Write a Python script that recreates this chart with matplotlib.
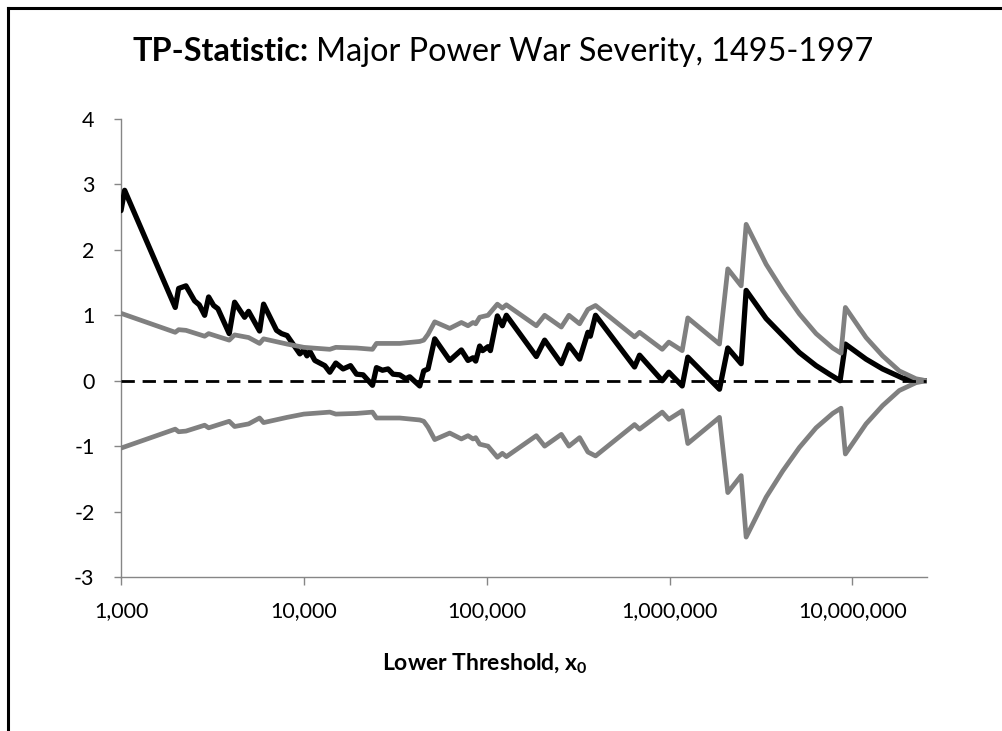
import matplotlib
matplotlib.use("Agg")
import matplotlib.pyplot as plt
from matplotlib.ticker import FixedLocator, FuncFormatter, NullLocator
from matplotlib.lines import Line2D

plt.rcParams['font.family'] = ['Lato', 'DejaVu Sans']
plt.rcParams['axes.unicode_minus'] = False
plt.rcParams['mathtext.fontset'] = 'custom'
plt.rcParams['mathtext.rm'] = 'Lato'
plt.rcParams['mathtext.bf'] = 'Lato:bold'

# ---- data ----
x_tp = [1000, 1047, 1980, 2067, 2266, 2527, 2679, 2867, 3015, 3210, 3390, 3907,
        4182, 4486, 4742, 4987, 5727, 6024, 7092, 7553, 8103, 8384, 9509, 10000,
        10400, 10785, 11484, 13024, 13871, 14958, 16396, 17999, 19410, 21086,
        23736, 24960, 26920, 28880, 30760, 33460, 36080, 37950, 43040, 45260,
        47780, 51980, 62790, 72720, 79040, 84180, 87090, 91560, 95000, 101650,
        104770, 114400, 121830, 128140, 186900, 207500, 256000, 281700, 322300,
        357800, 368700, 394000, 643800, 685700, 912400, 991300, 1173000, 1259000,
        1876000, 2083000, 2465000, 2625000, 3376000, 4160000, 5133000, 6332000,
        7485000, 8566000, 9157000, 11880000, 14640000, 18830000, 22290000, 25380000]
tp = [2.60, 2.91, 1.12, 1.41, 1.45, 1.22, 1.16, 1.00, 1.28, 1.15, 1.10, 0.72,
      1.20, 1.07, 0.97, 1.06, 0.76, 1.17, 0.77, 0.72, 0.69, 0.63, 0.41, 0.47,
      0.38, 0.45, 0.31, 0.23, 0.13, 0.27, 0.18, 0.23, 0.10, 0.09,
      -0.07, 0.20, 0.16, 0.18, 0.10, 0.09, 0.03, 0.06, -0.08, 0.15,
      0.18, 0.64, 0.31, 0.47, 0.31, 0.35, 0.30, 0.53, 0.46, 0.52,
      0.46, 0.99, 0.84, 1.00, 0.37, 0.62, 0.26, 0.55, 0.33,
      0.74, 0.68, 1.00, 0.21, 0.39, 0.00, 0.13, -0.08, 0.36,
      -0.13, 0.50, 0.26, 1.38, 0.95, 0.69, 0.43, 0.23,
      0.10, 0.00, 0.56, 0.33, 0.18, 0.04, 0.005, 0.00]

x_band = [1000, 1980, 2067, 2266, 2867, 3015, 3907, 4182, 4987, 5727, 6024, 8103,
          10000, 13871, 14958, 19410, 23736, 24960, 33460, 43040, 45260, 47780,
          51980, 62790, 72720, 79040, 84180, 87090, 91560, 101650, 114400, 121830,
          128140, 186900, 207500, 256000, 281700, 322300, 357800, 394000, 643800,
          685700, 912400, 991300, 1173000, 1259000, 1876000, 2083000, 2465000,
          2625000, 3376000, 4160000, 5133000, 6332000, 7805000, 8670000, 9157000,
          11880000, 14640000, 18060000, 22290000, 25380000]
band = [1.03, 0.74, 0.78, 0.77, 0.68, 0.72, 0.62, 0.70, 0.66, 0.57, 0.64, 0.56,
        0.51, 0.48, 0.51, 0.50, 0.48, 0.57, 0.57, 0.60, 0.62, 0.71,
        0.90, 0.80, 0.89, 0.84, 0.89, 0.87, 0.97, 1.00, 1.17, 1.11,
        1.16, 0.84, 1.00, 0.82, 1.00, 0.87, 1.09, 1.15, 0.67,
        0.74, 0.48, 0.59, 0.46, 0.96, 0.56, 1.71, 1.45,
        2.39, 1.78, 1.38, 1.02, 0.72, 0.50, 0.42, 1.12,
        0.66, 0.38, 0.15, 0.03, 0.00]
band_lower = [-v for v in band]

x_ticks = [1000, 10000, 100000, 1000000, 10000000]
y_ticks = [-3, -2, -1, 0, 1, 2, 3, 4]
title_bold = "TP-Statistic:"
title_rest = "Major Power War Severity, 1495-1997"
x_label = r"Lower Threshold, $\mathbf{x_0}$"

# ---- figure ----
fig = plt.figure(figsize=(10.03, 7.31), dpi=100)
ax = fig.add_axes([121/1003, 1 - 577/731, (927-121)/1003, (577-119)/731])

grey = '#808080'
ax.plot(x_tp, tp, color='black', lw=3.8, solid_joinstyle='round',
        solid_capstyle='round', zorder=3)
ax.plot(x_band, band, color=grey, lw=3.4, solid_joinstyle='round',
        solid_capstyle='round', zorder=4)
ax.plot(x_band, band_lower, color=grey, lw=3.4, solid_joinstyle='round',
        solid_capstyle='round', zorder=4)
ax.plot([x_band[0], x_band[-1]], [0, 0], color='black', lw=2.0,
        dashes=(4.8, 2.8), zorder=5)

ax.set_xscale('log')
ax.set_xlim(1000, 25600000)
ax.set_ylim(-3, 4)
ax.xaxis.set_major_locator(FixedLocator(x_ticks))
ax.xaxis.set_minor_locator(NullLocator())
ax.xaxis.set_major_formatter(FuncFormatter(lambda v, p: f"{int(round(v)):,}"))
ax.yaxis.set_major_locator(FixedLocator(y_ticks))
ax.yaxis.set_major_formatter(FuncFormatter(lambda v, p: f"{int(round(v))}"))

for s in ['top', 'right']:
    ax.spines[s].set_visible(False)
for s in ['left', 'bottom']:
    ax.spines[s].set_color('#868686')
    ax.spines[s].set_linewidth(1.0)
ax.tick_params(axis='x', direction='out', length=6, width=1, color='#868686',
               labelsize=15.5, pad=11, labelcolor='black')
ax.tick_params(axis='y', direction='out', length=5, width=1, color='#868686',
               labelsize=15.5, pad=14, labelcolor='black')

# x-axis title placed like the original
fig.text(485/1003, 1 - 664/731, x_label, fontsize=16.5, fontweight='bold',
         ha='center', va='center')

# title with mixed weights
t1 = fig.text(0, 0, title_bold, fontsize=23.3, fontweight='bold', va='baseline')
t2 = fig.text(0, 0, title_rest, fontsize=23.3, va='baseline')
fig.canvas.draw()
r = fig.canvas.get_renderer()
w1 = t1.get_window_extent(r).width
w2 = t2.get_window_extent(r).width
gap = 7
total = w1 + gap + w2
x0 = 503 - total / 2
yb = 1 - 61/731
t1.set_position((x0 / 1003, yb))
t2.set_position(((x0 + w1 + gap) / 1003, yb))

# chart frame (left and top edges visible)
fig.add_artist(Line2D([8/1003, 8/1003], [0, 1 - 8/731], color='black', lw=2.2,
                      transform=fig.transFigure, solid_capstyle='projecting'))
fig.add_artist(Line2D([8/1003, 1], [1 - 8/731, 1 - 8/731], color='black', lw=2.2,
                      transform=fig.transFigure, solid_capstyle='projecting'))

fig.savefig('out.png', dpi=100)
